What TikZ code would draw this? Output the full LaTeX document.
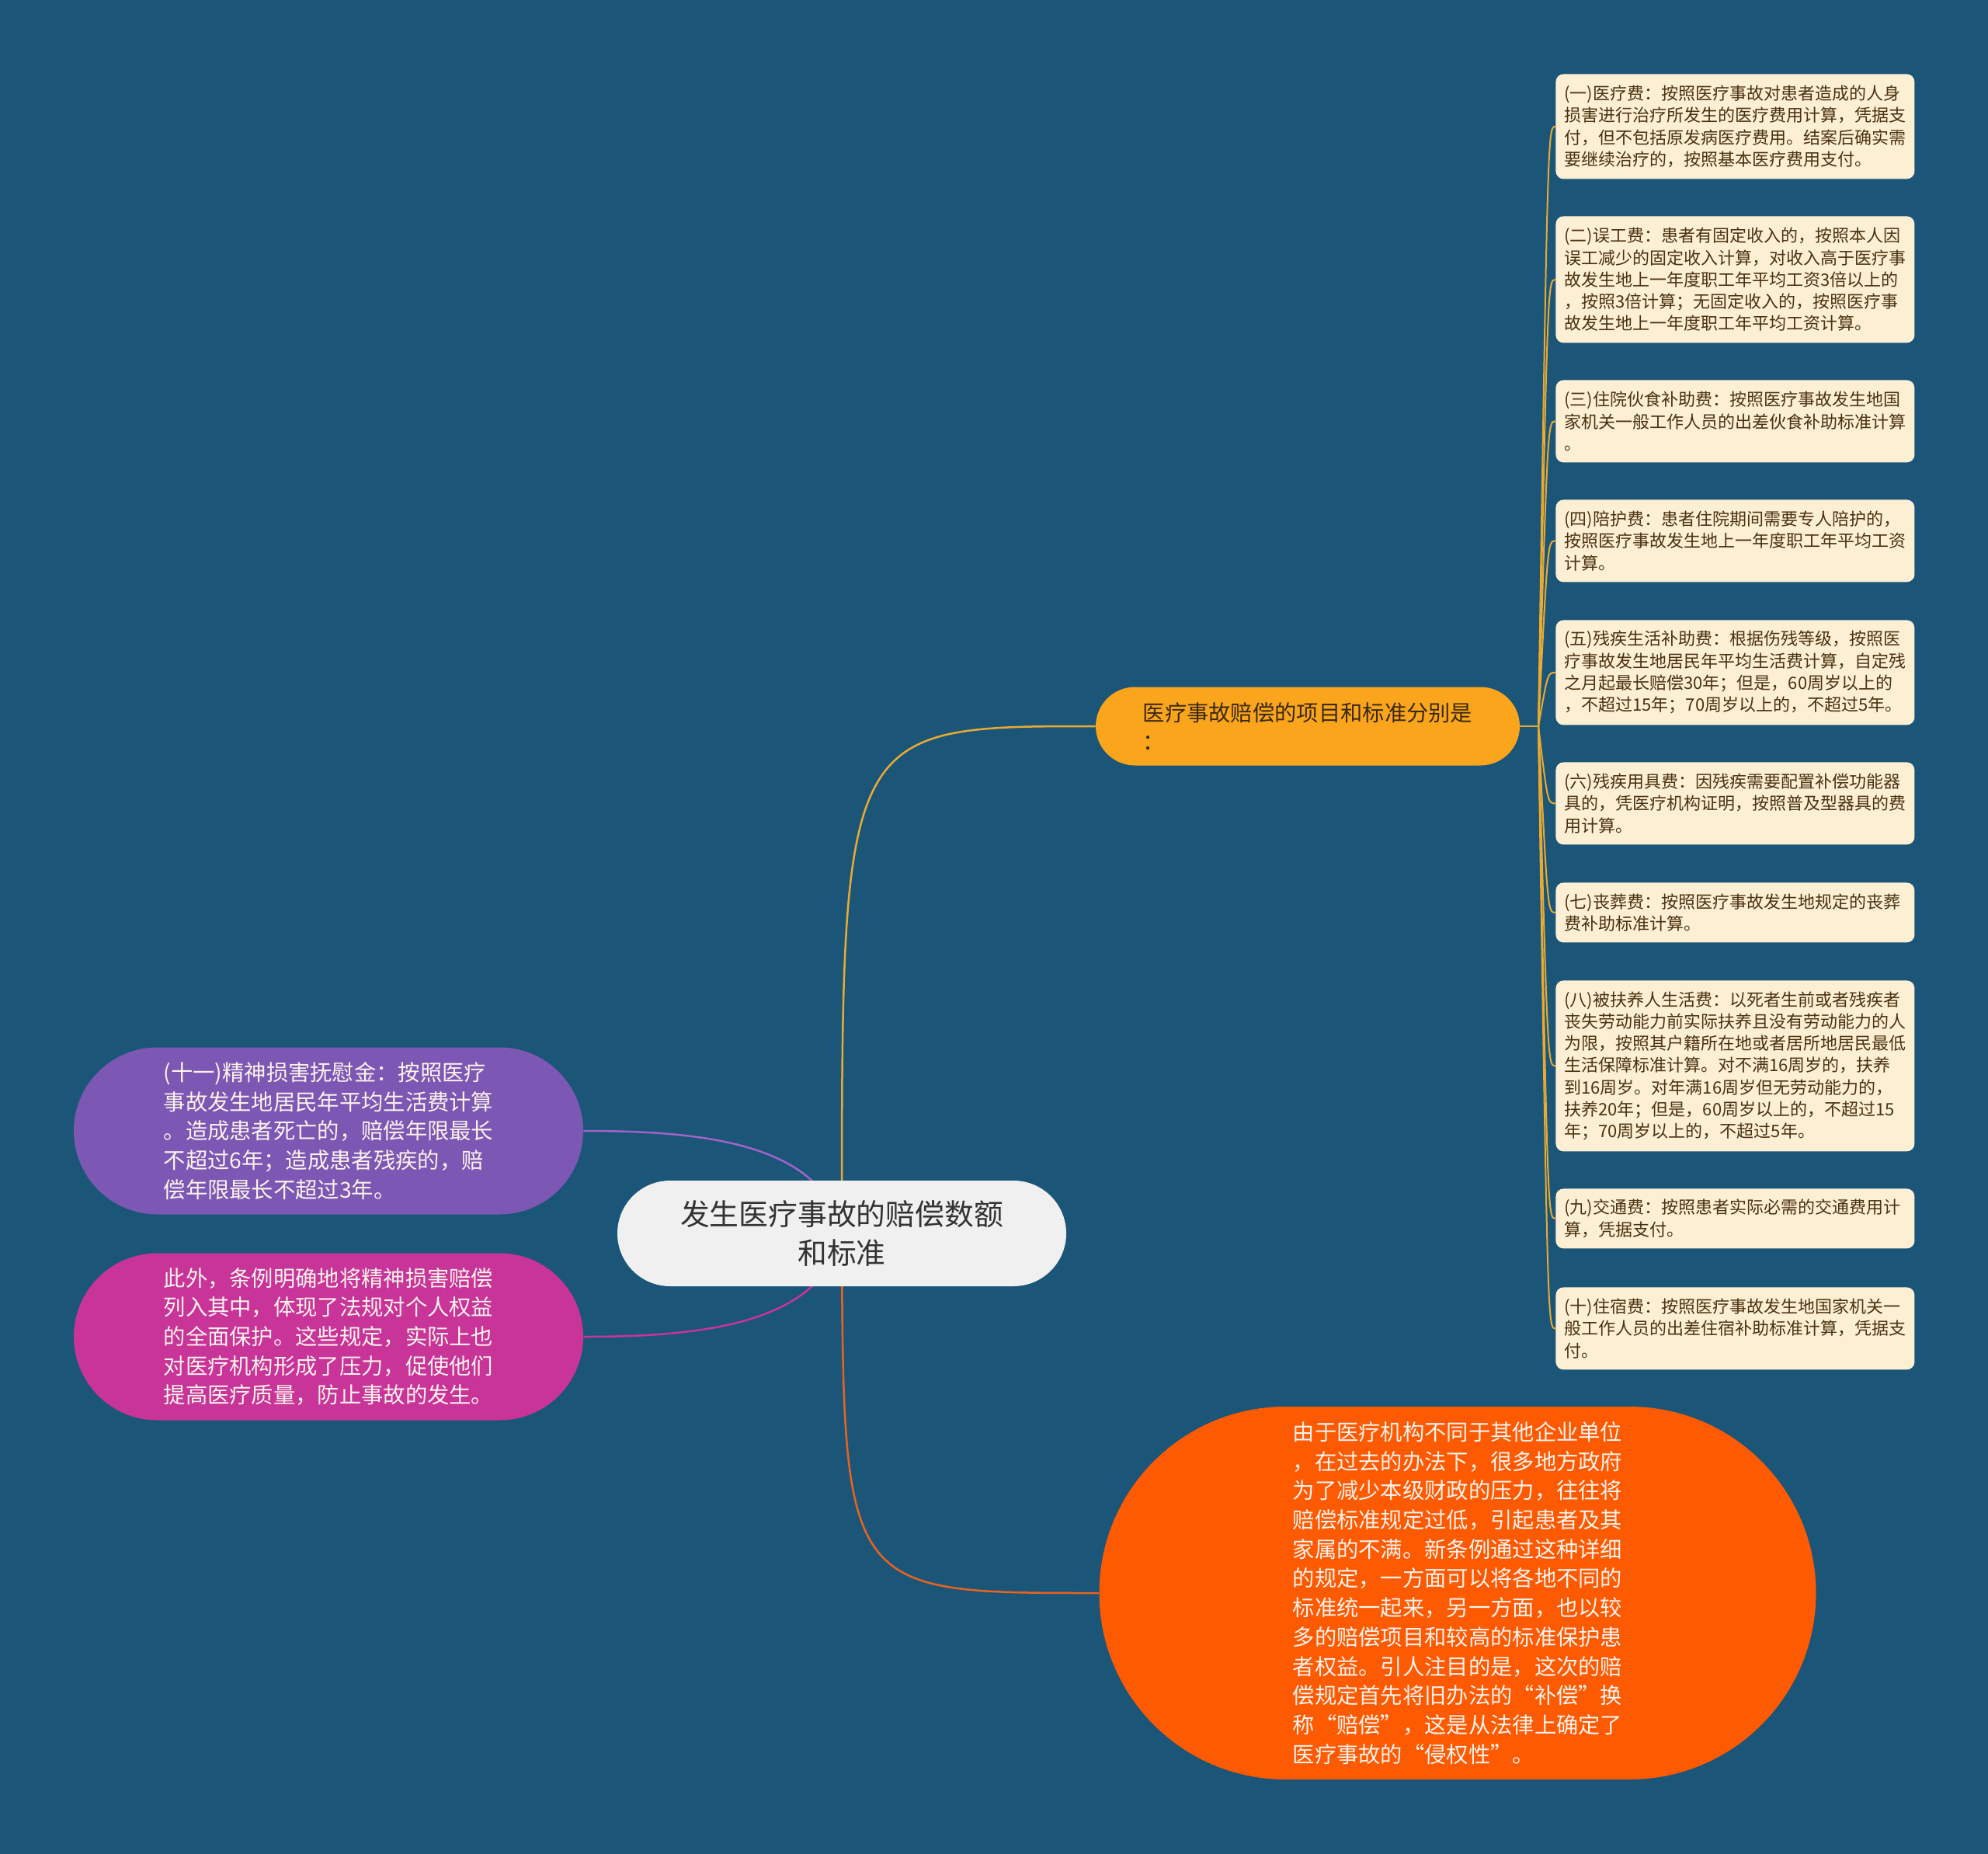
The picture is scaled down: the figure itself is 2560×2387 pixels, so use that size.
\documentclass[tikz,border=0pt]{standalone}
\usepackage{fontspec}
\setmainfont{Noto Sans CJK SC}
\usetikzlibrary{shapes.misc,backgrounds}
\definecolor{bgblue}{RGB}{27,85,120}
\definecolor{rootgray}{RGB}{240,240,240}
\definecolor{rootink}{RGB}{51,51,51}
\definecolor{itemorange}{RGB}{251,165,28}
\definecolor{itemink}{RGB}{58,42,18}
\definecolor{cream}{RGB}{253,239,212}
\definecolor{creamink}{RGB}{74,50,16}
\definecolor{gold}{RGB}{233,170,50}
\definecolor{lavender}{RGB}{124,88,180}
\definecolor{lavline}{RGB}{160,100,200}
\definecolor{rose}{RGB}{200,52,152}
\definecolor{flame}{RGB}{254,90,2}
\definecolor{flameline}{RGB}{232,100,30}
\definecolor{paleink}{RGB}{252,242,236}

\begin{document}
\begin{tikzpicture}[x=0.5pt,y=-0.5pt,
  pill/.style={rounded rectangle,inner sep=0pt},
  costbox/.style={anchor=north west,fill=cream,text=creamink,rounded corners=5pt,
    text width=220pt,inner xsep=5.5pt,minimum width=231pt,align=left,
    font=\fontsize{11pt}{14.15pt}\selectfont},
  bigtext/.style={text=paleink,align=left,font=\fontsize{14.15pt}{18.85pt}\selectfont},
  mainline/.style={line width=1.25pt},
  goldline/.style={gold,line width=1pt}]
\useasboundingbox (0,0) rectangle (2560,2387);

\node[pill,fill=rootgray,text=rootink,minimum width=289pt,minimum height=68pt,align=center,
  font=\fontsize{18.9pt}{25pt}\selectfont] (root) at (1084,1588) {发生医疗事故的赔偿数额\\和标准};

\node[pill,fill=itemorange,text=itemink,minimum width=273pt,minimum height=50.5pt,align=left,
  font=\fontsize{14.15pt}{18.5pt}\selectfont] (items) at (1684,935) {医疗事故赔偿的项目和标准分别是\\：};

\node[pill,fill=lavender,bigtext,minimum width=328pt,minimum height=107.5pt] (solace) at (423,1456)
  {(十一)精神损害抚慰金：按照医疗\\事故发生地居民年平均生活费计算\\。造成患者死亡的，赔偿年限最长\\不超过6年；造成患者残疾的，赔\\偿年限最长不超过3年。};
\node[pill,fill=rose,bigtext,minimum width=328pt,minimum height=107.5pt] (remark) at (423,1721)
  {此外，条例明确地将精神损害赔偿\\列入其中，体现了法规对个人权益\\的全面保护。这些规定，实际上也\\对医疗机构形成了压力，促使他们\\提高医疗质量，防止事故的发生。};
\node[pill,fill=flame,bigtext,minimum width=461.5pt,minimum height=240pt] (reason) at (1877,2051)
  {由于医疗机构不同于其他企业单位\\，在过去的办法下，很多地方政府\\为了减少本级财政的压力，往往将\\赔偿标准规定过低，引起患者及其\\家属的不满。新条例通过这种详细\\的规定，一方面可以将各地不同的\\标准统一起来，另一方面，也以较\\多的赔偿项目和较高的标准保护患\\者权益。引人注目的是，这次的赔\\偿规定首先将旧办法的“补偿”换\\称“赔偿”，这是从法律上确定了\\医疗事故的“侵权性”。};

\node[costbox,minimum height=67.5pt] (b1) at (2003,95) {(一)医疗费：按照医疗事故对患者造成的人身\\损害进行治疗所发生的医疗费用计算，凭据支\\付，但不包括原发病医疗费用。结案后确实需\\要继续治疗的，按照基本医疗费用支付。};
\node[costbox,minimum height=81.5pt] (b2) at (2003,278) {(二)误工费：患者有固定收入的，按照本人因\\误工减少的固定收入计算，对收入高于医疗事\\故发生地上一年度职工年平均工资3倍以上的\\，按照3倍计算；无固定收入的，按照医疗事\\故发生地上一年度职工年平均工资计算。};
\node[costbox,minimum height=53pt] (b3) at (2003,489) {(三)住院伙食补助费：按照医疗事故发生地国\\家机关一般工作人员的出差伙食补助标准计算\\。};
\node[costbox,minimum height=53pt] (b4) at (2003,643) {(四)陪护费：患者住院期间需要专人陪护的，\\按照医疗事故发生地上一年度职工年平均工资\\计算。};
\node[costbox,minimum height=67.5pt] (b5) at (2003,798) {(五)残疾生活补助费：根据伤残等级，按照医\\疗事故发生地居民年平均生活费计算，自定残\\之月起最长赔偿30年；但是，60周岁以上的\\，不超过15年；70周岁以上的，不超过5年。};
\node[costbox,minimum height=53pt] (b6) at (2003,981) {(六)残疾用具费：因残疾需要配置补偿功能器\\具的，凭医疗机构证明，按照普及型器具的费\\用计算。};
\node[costbox,minimum height=38.5pt] (b7) at (2003,1136) {(七)丧葬费：按照医疗事故发生地规定的丧葬\\费补助标准计算。};
\node[costbox,minimum height=110pt] (b8) at (2003,1262) {(八)被扶养人生活费：以死者生前或者残疾者\\丧失劳动能力前实际扶养且没有劳动能力的人\\为限，按照其户籍所在地或者居所地居民最低\\生活保障标准计算。对不满16周岁的，扶养\\到16周岁。对年满16周岁但无劳动能力的，\\扶养20年；但是，60周岁以上的，不超过15\\年；70周岁以上的，不超过5年。};
\node[costbox,minimum height=38.5pt] (b9) at (2003,1530) {(九)交通费：按照患者实际必需的交通费用计\\算，凭据支付。};
\node[costbox,minimum height=53pt] (b10) at (2003,1657) {(十)住宿费：按照医疗事故发生地国家机关一\\般工作人员的出差住宿补助标准计算，凭据支\\付。};

\coordinate (hub) at (1981,935);
\coordinate (bend) at (1993,935);
\draw[goldline] (items.east) -- (hub);
\foreach \i in {1,...,10}
  \draw[goldline] (hub) .. controls (bend |- b\i.west) and (bend |- b\i.west) .. (b\i.west);

% branches from the root, kept under the nodes
\begin{pgfonlayer}{background}
\fill[bgblue] (0,0) rectangle (2560,2387);
\draw[mainline,gold] (root.center) .. controls (1084,935) and (1084,935) .. (items.west);
\draw[mainline,flameline] (root.center) .. controls (1086,2051) and (1086,2051) .. (reason.west);
\draw[mainline,lavline] (root.center) .. controls (1060,1470) and (900,1456) .. (solace.east);
\draw[mainline,rose] (root.center) .. controls (1060,1706) and (900,1721) .. (remark.east);
\end{pgfonlayer}
\end{tikzpicture}
\end{document}
